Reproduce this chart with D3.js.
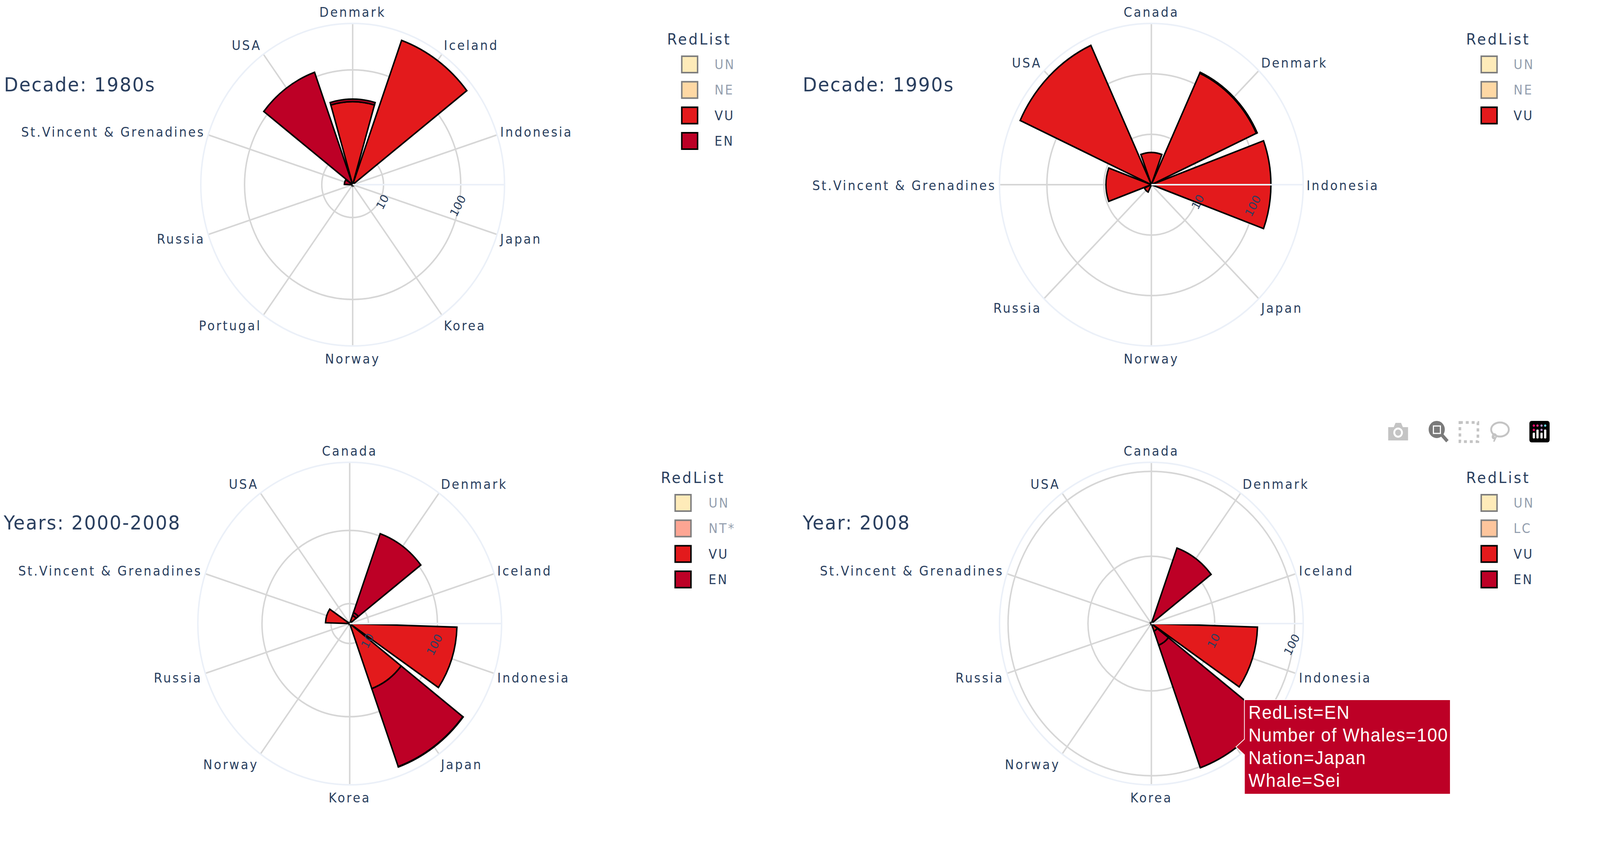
<!DOCTYPE html>
<html>
<head>
<meta charset="utf-8">
<title>Whales by nation</title>
<script src="https://cdn.jsdelivr.net/npm/d3@7"></script>
<style>
  html, body { margin: 0; background: #fff; overflow: hidden; }
  svg { display: block; width: 100vw; height: 100vh; }
  text { font-family: "DejaVu Sans", Verdana, sans-serif; fill: #2a3f5f; }
</style>
</head>
<body>
<!-- the window can come out narrower than asked for, so the drawing is fitted to it -->
<svg id="chart" viewBox="0 0 4351 2159" preserveAspectRatio="none"></svg>
<script>
// Nations on the angular axis of each panel
const nations1980 = ["Denmark", "Iceland", "Indonesia", "Japan", "Korea", "Norway", "Portugal", "Russia", "St.Vincent & Grenadines", "USA"];
const nations1990 = ["Canada", "Denmark", "Indonesia", "Japan", "Norway", "Russia", "St.Vincent & Grenadines", "USA"];
const nations2000 = ["Canada", "Denmark", "Iceland", "Indonesia", "Japan", "Korea", "Norway", "Russia", "St.Vincent & Grenadines", "USA"];

// Whale counts. Each array lines up with its nations list
// and the arrays of a panel stack on each other in the order listed below.
const vu1980 = [41, 296, 0, 0, 0, 0, 0, 0, 0, 0];
const en1980 = [3, 0, 0, 0, 0, 0, 0, 0, 5.1, 114];

const vu1990a = [5, 157, 184, 0, 0, 2, 9.2, 504];
const vu1990b = [0, 6, 0, 0, 0, 0, 0, 0];

const vu2000 = [0, 7, 0, 192, 47, 0, 0, 0, 12, 0];
const en2000a = [0, 0.7, 0, 0, 590, 0, 0, 0, 0, 0];
const en2000b = [0, 100, 0, 0, 8, 0, 0, 0, 0, 0];

const vu2008 = [0, 0, 0, 34.3, 2, 0, 0, 0, 0, 0];
const en2008a = [0, 14.2, 0, 0, 1, 0, 0, 0, 0, 0];
const en2008b = [0, 0, 0, 0, 100, 0, 0, 0, 0, 0];

const radialTicks = [10, 100];

// RedList classes
const classColors = { UN: "#fed976", NE: "#feb24c", LC: "#fd8d3c", "NT*": "#fc4e2a", VU: "#e31a1c", EN: "#bd0026" };
const hiddenClasses = ["UN", "NE", "LC", "NT*"];

const legend1980 = ["UN", "NE", "VU", "EN"];
const legend1990 = ["UN", "NE", "VU"];
const legend2000 = ["UN", "NT*", "VU", "EN"];
const legend2008 = ["UN", "LC", "VU", "EN"];

const tooltipLines = ["RedList=EN", "Number of Whales=100", "Nation=Japan", "Whale=Sei"];

const OUTER_RADIUS = 413;
const GRID_COLOR = "#d6d6d6";
const AXIS_COLOR = "#ebf0f8";

const panels = [
  {
    title: "Decade: 1980s", titleX: 11, titleY: 216,
    cx: 959, cy: 473, domain: [3.98, 369], nations: nations1980,
    traces: [["VU", vu1980], ["EN", en1980]],
    legend: legend1980, legendTitleX: 1814, swatchX: 1854, labelX: 1943, legendY: 100
  },
  {
    title: "Decade: 1990s", titleX: 2183, titleY: 216,
    cx: 3131, cy: 473, domain: [1.47, 679], nations: nations1990,
    traces: [["VU", vu1990a], ["VU", vu1990b]],
    legend: legend1990, legendTitleX: 3987, swatchX: 4028, labelX: 4116, legendY: 100
  },
  {
    title: "Years: 2000-2008", titleX: 10, titleY: 1338,
    cx: 951, cy: 1597, domain: [5.35, 851], nations: nations2000,
    traces: [["VU", vu2000], ["EN", en2000a], ["EN", en2000b]],
    legend: legend2000, legendTitleX: 1797, swatchX: 1836, labelX: 1927, legendY: 1223
  },
  {
    // the tooltip sits on top of the Japan label in this panel
    title: "Year: 2008", titleX: 2183, titleY: 1338,
    cx: 3131, cy: 1597, domain: [1.61, 128], nations: nations2000, coveredLabel: "Japan",
    traces: [["VU", vu2008], ["EN", en2008a], ["EN", en2008b]],
    legend: legend2008, legendTitleX: 3987, swatchX: 4028, labelX: 4116, legendY: 1223
  }
];

const svg = d3.select("#chart");

function drawPanel(panel) {
  const g = svg.append("g").attr("transform", `translate(${panel.cx},${panel.cy})`);

  const radius = d3.scaleLog().domain(panel.domain).range([0, OUTER_RADIUS]);
  const step = 2 * Math.PI / panel.nations.length;
  const angle = d3.scalePoint()
    .domain(panel.nations)
    .range([0, step * (panel.nations.length - 1)]);

  // rings, spokes and outer circle
  g.selectAll(".ring")
    .data(radialTicks)
    .enter()
    .append("circle")
    .attr("r", function (d) { return radius(d); })
    .attr("fill", "none")
    .attr("stroke", GRID_COLOR)
    .attr("stroke-width", 4);

  g.selectAll(".spoke")
    .data(panel.nations)
    .enter()
    .append("line")
    .attr("x2", function (d) { return OUTER_RADIUS * Math.sin(angle(d)); })
    .attr("y2", function (d) { return -OUTER_RADIUS * Math.cos(angle(d)); })
    .attr("stroke", GRID_COLOR)
    .attr("stroke-width", 4);

  g.append("circle")
    .attr("r", OUTER_RADIUS)
    .attr("fill", "none")
    .attr("stroke", AXIS_COLOR)
    .attr("stroke-width", 4);

  // angular labels
  g.selectAll(".nation")
    .data(panel.nations.filter(function (d) { return d !== panel.coveredLabel; }))
    .enter()
    .append("text")
    .attr("x", function (d) { return (OUTER_RADIUS + 9) * Math.sin(angle(d)); })
    .attr("y", function (d) { return -(OUTER_RADIUS + 31) * Math.cos(angle(d)) + 2; })
    .attr("dy", "0.36em")
    .attr("font-size", 33)
    .attr("letter-spacing", 4.2)
    .attr("text-anchor", function (d) {
      const s = Math.sin(angle(d));
      if (Math.abs(s) < 0.01) return "middle";
      return s > 0 ? "start" : "end";
    })
    .text(function (d) { return d; });

  // stacked wedges
  const arc = d3.arc();
  const totals = panel.nations.map(function () { return 0; });
  const halfWidth = step * 0.9 / 2;

  panel.traces.forEach(function (trace) {
    const className = trace[0];
    const values = trace[1];
    values.forEach(function (value, i) {
      if (value <= 0) return;
      const base = totals[i];
      totals[i] = base + value;
      const nation = panel.nations[i];
      g.append("path")
        .attr("d", arc({
          innerRadius: base > 0 ? radius(base) : 0,
          outerRadius: radius(totals[i]),
          startAngle: angle(nation) - halfWidth,
          endAngle: angle(nation) + halfWidth
        }))
        .attr("fill", classColors[className])
        .attr("stroke", "#000")
        .attr("stroke-width", 4)
        .attr("stroke-linejoin", "miter");
    });
  });

  // radial axis sits above the traces
  g.append("line")
    .attr("x2", OUTER_RADIUS)
    .attr("stroke", AXIS_COLOR)
    .attr("stroke-width", 4);

  g.selectAll(".tick")
    .data(radialTicks)
    .enter()
    .append("text")
    .attr("transform", function (d) {
      const isTen = d === 10;
      return `translate(${radius(d) - (isTen ? 3 : 8)},${isTen ? 44 : 54}) rotate(-62)`;
    })
    .attr("text-anchor", "middle")
    .attr("dy", "0.36em")
    .attr("font-size", 30)
    .text(function (d) { return d; });

  // title
  svg.append("text")
    .attr("x", panel.titleX)
    .attr("y", panel.titleY)
    .attr("dy", "0.36em")
    .attr("font-size", 50)
    .attr("letter-spacing", 2.8)
    .text(panel.title);

  drawLegend(panel);
}

function drawLegend(panel) {
  svg.append("text")
    .attr("x", panel.legendTitleX)
    .attr("y", panel.legendY)
    .attr("dy", "0.36em")
    .attr("font-size", 39)
    .attr("letter-spacing", 4.6)
    .text("RedList");

  const rowY = d3.scalePoint()
    .domain(d3.range(4))
    .range([panel.legendY + 65, panel.legendY + 261]);

  panel.legend.forEach(function (name, i) {
    const row = svg.append("g")
      .attr("opacity", hiddenClasses.includes(name) ? 0.5 : 1);

    row.append("rect")
      .attr("x", panel.swatchX)
      .attr("y", rowY(i) - 21)
      .attr("width", 43)
      .attr("height", 42)
      .attr("fill", classColors[name])
      .attr("stroke", "#000")
      .attr("stroke-width", 4);

    row.append("text")
      .attr("x", panel.labelX)
      .attr("y", rowY(i))
      .attr("dy", "0.36em")
      .attr("font-size", 33)
      .attr("letter-spacing", 4)
      .text(name);
  });
}

function drawTooltip() {
  const left = 3384, right = 3944, top = 1792, bottom = 2034;
  const tipX = 3361, tipY = 1913;

  svg.append("path")
    .attr("d", `M${left},${top}H${right}V${bottom}H${left}V${tipY + 20}L${tipX},${tipY}L${left},${tipY - 20}Z`)
    .attr("fill", classColors.EN)
    .attr("stroke", "#fff")
    .attr("stroke-width", 2);

  const lineY = d3.scalePoint().domain(d3.range(tooltipLines.length)).range([1841, 2015]);

  svg.selectAll(".tooltip-line")
    .data(tooltipLines)
    .enter()
    .append("text")
    .attr("x", 3395)
    .attr("y", function (d, i) { return lineY(i); })
    .attr("font-size", 48)
    .attr("letter-spacing", 1.9)
    .style("font-family", "'Liberation Sans', Arial, sans-serif")
    .style("fill", "#fff")
    .text(function (d) { return d; });
}

function drawModebar() {
  const bar = svg.append("g");
  const grey = "#c4c4c4";

  // camera
  bar.append("path")
    .attr("d", "M3775,1094H3790L3795,1083H3810L3815,1094H3829V1128H3775Z")
    .attr("fill", grey);
  bar.append("circle").attr("cx", 3802).attr("cy", 1108).attr("r", 13).attr("fill", "#fff");
  bar.append("circle").attr("cx", 3802).attr("cy", 1108).attr("r", 8).attr("fill", grey);

  // zoom, the active tool
  bar.append("circle").attr("cx", 3907).attr("cy", 1100).attr("r", 19)
    .attr("fill", "#7a7a7a").attr("stroke", "#7a7a7a").attr("stroke-width", 6);
  bar.append("rect").attr("x", 3898).attr("y", 1091).attr("width", 19).attr("height", 19)
    .attr("fill", "#7a7a7a").attr("stroke", "#fff").attr("stroke-width", 3);
  bar.append("line").attr("x1", 3921).attr("y1", 1114).attr("x2", 3936).attr("y2", 1130)
    .attr("stroke", "#7a7a7a").attr("stroke-width", 9);

  // box select
  bar.append("rect").attr("x", 3970).attr("y", 1082).attr("width", 49).attr("height", 49)
    .attr("fill", "none").attr("stroke", grey).attr("stroke-width", 7).attr("stroke-dasharray", "8 8");

  // lasso
  bar.append("ellipse").attr("cx", 4079).attr("cy", 1100).attr("rx", 24).attr("ry", 18)
    .attr("fill", "none").attr("stroke", grey).attr("stroke-width", 5);
  bar.append("path")
    .attr("d", "M4062,1112C4052,1122 4066,1128 4069,1118C4070,1112 4060,1108 4060,1116L4066,1124L4062,1131")
    .attr("fill", "none").attr("stroke", grey).attr("stroke-width", 4);

  // plotly logo
  bar.append("rect").attr("x", 4159).attr("y", 1078).attr("width", 55).attr("height", 55).attr("rx", 6).attr("fill", "#000");
  [[4171, "#ff0a6c"], [4181, "#ef2f7d"], [4192, "#b08ec6"], [4202, "#62d3e3"]].forEach(function (d) {
    bar.append("circle").attr("cx", d[0]).attr("cy", 1090).attr("r", 3).attr("fill", d[1]);
  });
  bar.append("circle").attr("cx", 4171).attr("cy", 1101).attr("r", 3).attr("fill", "#ff0a6c");
  bar.append("circle").attr("cx", 4192).attr("cy", 1101).attr("r", 3).attr("fill", "#b08ec6");
  [[4171, 1108], [4181, 1100], [4192, 1108], [4202, 1100]].forEach(function (d) {
    bar.append("rect").attr("x", d[0] - 3).attr("y", d[1]).attr("width", 6).attr("height", 1123 - d[1]).attr("rx", 2).attr("fill", "#fff");
  });
}

panels.forEach(drawPanel);
drawTooltip();
drawModebar();
</script>
</body>
</html>
